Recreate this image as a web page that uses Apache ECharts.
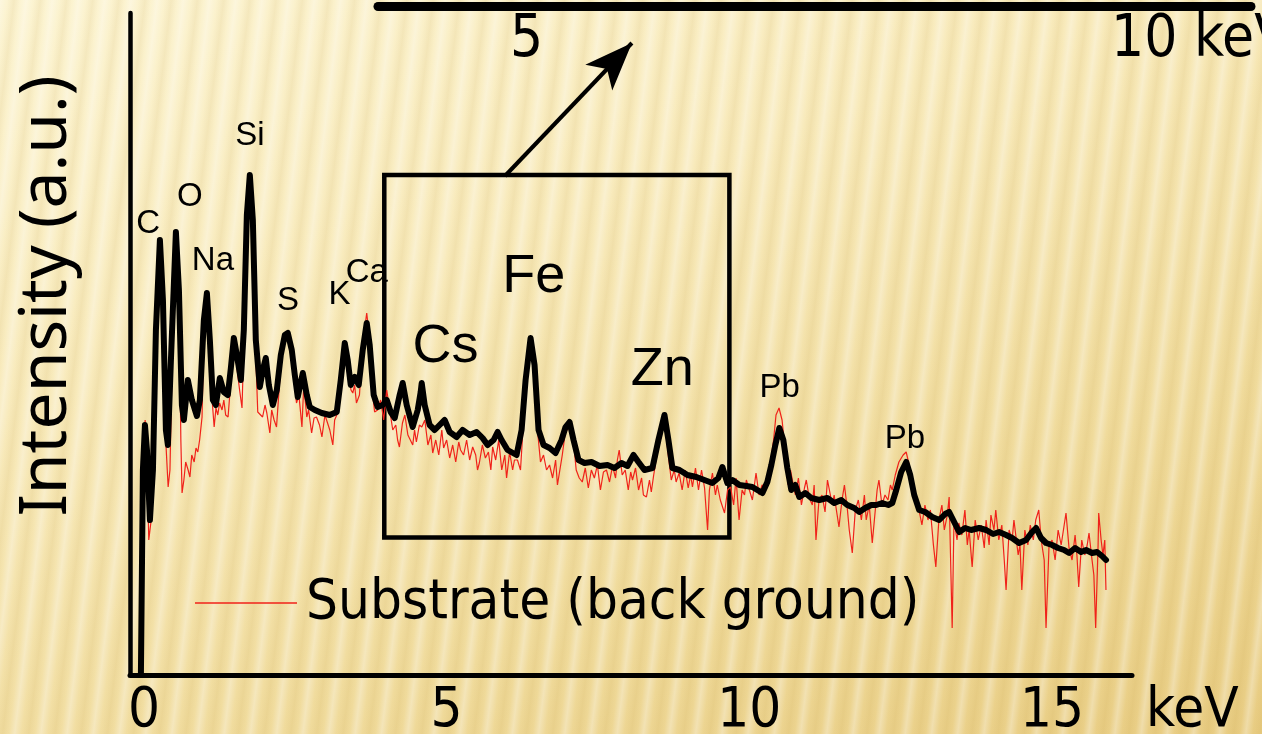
<!DOCTYPE html>
<html><head><meta charset="utf-8">
<script src="https://cdn.jsdelivr.net/npm/echarts@6/dist/echarts.min.js"></script>
<style>
html,body{margin:0;padding:0;width:1262px;height:734px;overflow:hidden;}
body{background:
 repeating-linear-gradient(97deg, rgba(255,255,255,0.30) 0px, rgba(255,255,255,0) 7px, rgba(185,145,50,0.10) 14px, rgba(255,255,255,0) 20px, rgba(255,255,255,0.30) 26px),
 linear-gradient(160deg, #FCF4D2 0%, #F8EABB 35%, #F0DB9C 70%, #E8CC82 100%);}
#chart{width:1262px;height:734px;}
</style></head>
<body><div id="chart"></div>
<script>
// Energy (keV) and intensity (a.u.) of the sample spectrum (black)
const sampleEnergy = [-0.05,-0.017,0.017,0.05,0.099,0.149,0.198,0.264,0.314,0.363,0.396,0.446,0.528,0.578,0.627,0.66,0.726,0.792,0.875,0.924,0.99,1.04,1.089,1.139,1.188,1.254,1.32,1.386,1.436,1.485,1.535,1.601,1.65,1.7,1.749,1.799,1.848,1.914,1.964,2.013,2.063,2.129,2.195,2.261,2.327,2.376,2.442,2.492,2.541,2.624,2.69,2.739,2.822,2.937,3.069,3.185,3.251,3.317,3.366,3.416,3.482,3.548,3.614,3.68,3.729,3.795,3.861,3.944,4.01,4.076,4.142,4.224,4.274,4.34,4.439,4.522,4.571,4.588,4.637,4.719,4.802,4.884,4.967,5.05,5.165,5.264,5.38,5.495,5.594,5.677,5.776,5.842,5.908,6.007,6.155,6.238,6.304,6.386,6.452,6.518,6.601,6.7,6.799,6.898,6.964,7.03,7.096,7.178,7.277,7.393,7.525,7.657,7.772,7.888,7.987,8.086,8.168,8.267,8.399,8.498,8.598,8.663,8.729,8.845,8.977,9.125,9.257,9.389,9.488,9.554,9.637,9.719,9.835,9.95,10.05,10.132,10.215,10.297,10.363,10.429,10.495,10.561,10.627,10.693,10.759,10.825,10.924,11.023,11.155,11.287,11.403,11.518,11.617,11.733,11.815,11.914,12.013,12.096,12.195,12.294,12.36,12.426,12.508,12.591,12.657,12.723,12.805,12.904,13.02,13.135,13.234,13.3,13.383,13.465,13.564,13.663,13.795,13.911,14.026,14.125,14.241,14.34,14.455,14.571,14.67,14.736,14.818,14.901,15.0,15.099,15.198,15.281,15.38,15.479,15.561,15.66,15.743,15.825,15.891];
const sampleIntensity = [0,205,250,225,155,205,345,435,375,245,230,315,443,385,270,255,295,275,259,275,355,382,335,275,270,297,283,280,307,337,320,295,345,460,500,455,335,288,305,317,290,270,285,320,340,342,325,300,278,302,280,268,265,262,260,263,295,332,315,290,298,290,325,352,330,280,268,270,275,263,257,280,292,270,248,265,283,292,270,250,245,250,255,243,238,245,240,243,237,230,235,243,235,225,220,245,295,337,310,245,230,227,222,235,248,253,235,215,212,213,209,210,207,212,209,220,213,205,207,235,260,235,207,205,200,198,195,192,197,208,192,195,190,189,188,185,182,193,210,230,247,235,207,185,190,178,182,177,175,177,172,175,170,167,163,167,170,170,172,170,172,185,203,213,200,180,165,163,158,155,161,163,153,143,147,145,147,145,141,143,140,137,132,135,143,147,137,132,130,127,125,122,127,123,125,122,123,119,115];

// Energy (keV) and intensity (a.u.) of the substrate background spectrum (red)
const substrateEnergy = [-0.05,-0.02,0.02,0.05,0.08,0.12,0.15,0.20,0.26,0.31,0.36,0.40,0.43,0.46,0.53,0.58,0.61,0.63,0.66,0.69,0.73,0.76,0.79,0.83,0.86,0.89,0.92,0.96,0.99,1.04,1.09,1.12,1.16,1.19,1.22,1.25,1.29,1.32,1.35,1.39,1.42,1.45,1.49,1.52,1.55,1.58,1.62,1.65,1.70,1.75,1.80,1.85,1.88,1.91,1.96,2.00,2.03,2.08,2.11,2.15,2.19,2.24,2.29,2.34,2.39,2.44,2.49,2.52,2.56,2.61,2.64,2.69,2.72,2.77,2.81,2.85,2.90,2.94,2.99,3.02,3.07,3.12,3.15,3.20,3.27,3.32,3.37,3.42,3.45,3.48,3.51,3.56,3.61,3.68,3.73,3.78,3.81,3.86,3.91,3.96,4.01,4.06,4.11,4.16,4.19,4.22,4.27,4.31,4.36,4.39,4.44,4.47,4.50,4.55,4.59,4.64,4.69,4.74,4.77,4.82,4.87,4.92,4.95,5.00,5.05,5.10,5.15,5.20,5.23,5.28,5.33,5.38,5.43,5.48,5.51,5.54,5.59,5.64,5.69,5.73,5.76,5.81,5.86,5.91,5.96,5.99,6.04,6.09,6.12,6.17,6.22,6.25,6.30,6.39,6.45,6.50,6.55,6.60,6.65,6.70,6.75,6.80,6.83,6.86,6.91,6.96,7.03,7.10,7.14,7.19,7.24,7.29,7.34,7.39,7.44,7.49,7.54,7.59,7.64,7.69,7.74,7.79,7.82,7.85,7.90,7.95,8.00,8.04,8.07,8.12,8.17,8.22,8.25,8.30,8.35,8.38,8.42,8.46,8.51,8.60,8.66,8.71,8.76,8.79,8.84,8.89,8.94,8.99,9.03,9.06,9.11,9.16,9.21,9.26,9.31,9.34,9.39,9.44,9.47,9.52,9.59,9.64,9.69,9.74,9.78,9.83,9.88,9.92,9.95,10.00,10.05,10.11,10.16,10.21,10.28,10.33,10.40,10.44,10.49,10.54,10.59,10.64,10.68,10.71,10.76,10.81,10.86,10.91,10.94,10.99,11.04,11.07,11.10,11.15,11.20,11.25,11.29,11.32,11.37,11.40,11.45,11.48,11.53,11.57,11.62,11.65,11.70,11.75,11.80,11.85,11.90,11.93,11.98,12.03,12.08,12.11,12.14,12.19,12.24,12.29,12.33,12.36,12.41,12.47,12.54,12.59,12.64,12.69,12.74,12.77,12.80,12.85,12.90,12.95,12.99,13.04,13.08,13.13,13.18,13.22,13.27,13.30,13.35,13.38,13.43,13.46,13.51,13.56,13.60,13.63,13.68,13.73,13.78,13.83,13.88,13.91,13.96,13.99,14.04,14.07,14.12,14.17,14.21,14.24,14.29,14.34,14.37,14.40,14.44,14.47,14.50,14.55,14.60,14.64,14.69,14.73,14.78,14.82,14.87,14.90,14.95,15.00,15.05,15.10,15.15,15.20,15.23,15.28,15.33,15.38,15.41,15.44,15.49,15.54,15.58,15.61,15.66,15.69,15.72,15.76,15.77,15.81,15.84,15.87,15.89];
const substrateIntensity = [0,205,255,220,135,155,205,345,430,375,235,188,205,295,440,375,235,182,195,213,205,198,220,213,227,223,235,258,345,380,330,280,248,267,260,272,265,275,260,258,282,303,335,315,300,285,267,330,450,497,450,315,263,262,258,270,262,242,265,255,248,292,325,337,335,315,290,272,280,248,290,258,265,242,257,258,250,238,260,258,245,230,255,262,300,327,310,285,282,290,272,280,330,362,335,280,263,265,275,255,285,265,245,250,235,228,252,260,240,242,230,245,233,250,248,255,230,240,222,235,220,245,227,235,217,230,213,233,225,220,235,215,228,220,205,212,230,217,223,205,228,215,235,205,220,197,223,205,215,215,205,235,290,335,305,245,213,220,205,210,197,215,190,192,220,243,248,230,205,197,193,207,187,205,197,210,185,203,205,193,209,197,215,225,200,205,185,203,195,207,185,197,180,178,195,183,200,215,230,255,220,195,205,193,202,185,205,187,200,188,207,185,205,187,145,185,202,180,190,175,162,185,188,170,197,155,185,180,195,185,175,202,180,190,185,205,235,260,267,255,225,190,205,195,180,197,170,187,195,177,170,190,135,175,180,163,195,195,170,180,160,148,175,190,165,145,122,165,175,155,180,155,170,132,165,185,195,170,180,175,190,185,200,213,220,223,210,195,180,175,175,150,170,155,165,130,108,155,170,145,160,178,47,155,135,152,140,165,130,145,108,155,135,150,127,155,130,160,145,165,135,150,115,85,145,135,155,155,120,130,85,145,130,150,135,155,165,135,115,47,130,135,115,145,130,150,162,127,115,140,120,88,135,120,130,142,115,100,47,130,162,135,120,135,85];

// Peak annotations: element, energy (keV), label height (a.u.)
const peakNames  = ['C','O','Na','Si','S','K','Ca','Cs','Fe','Zn','Pb','Pb'];
const peakEnergy = [0.07,0.76,1.14,1.75,2.38,3.23,3.68,4.98,6.44,8.56,10.50,12.57];
const peakHeight = [451,478,414,539,374,380,402,328,398,305,287,236];
const bigPeaks = ['Cs','Fe','Zn'];

// Axis tick labels
const mainTicks  = [0,5,10,15];
const insetTicks = [5,10];

// Zoom box (keV / a.u.) and arrow
const zoomBox   = [[3.97,137.5],[9.67,500]];
const zoomArrow = [[5.963,499],[8.06,632]];

const seriesName = 'Substrate (back ground)';
const COND = "'DejaVu Sans Condensed','DejaVu Sans',sans-serif";
const NARROW = "'Liberation Sans Narrow','DejaVu Sans Condensed',sans-serif";
const ARIAL = "'Liberation Sans',Arial,sans-serif";
const RED = '#F0221A';

const zip = (a,b) => a.map((v,i)=>[v,b[i]]);

const chart = echarts.init(document.getElementById('chart'), null, {renderer:'canvas'});
chart.setOption({
  animation:false,
  backgroundColor:'transparent',
  grid:[{left:130,right:130,top:13,bottom:59,outerBoundsMode:'none'},
        {left:378,right:11,top:0,height:6,outerBoundsMode:'none'}],
  xAxis:[{
    type:'value', gridIndex:0, min:-0.23, max:16.32,
    axisLine:{onZero:false, lineStyle:{color:'#000',width:5}},
    axisTick:{show:false}, splitLine:{show:false},
    axisLabel:{customValues:mainTicks, color:'#000', fontSize:56, fontFamily:COND, margin:8},
    name:'keV', nameLocation:'end', nameGap:14,
    nameTextStyle:{color:'#000', fontSize:56, fontFamily:COND, align:'left', verticalAlign:'top', padding:[8,0,0,0]}
  },{
    type:'value', gridIndex:1, min:3.902, max:11.165, position:'bottom',
    axisLine:{onZero:false, lineStyle:{color:'#000',width:9}},
    axisTick:{show:false}, splitLine:{show:false},
    axisLabel:{customValues:insetTicks, align:'left', color:'#000', fontSize:58, fontFamily:NARROW, margin:6,
      formatter:v => v===10 ? '10 keV' : String(v)}
  }],
  yAxis:[{
    type:'value', gridIndex:0, min:0, max:662,
    axisLine:{show:true, onZero:false, lineStyle:{color:'#000',width:4.5}},
    axisTick:{show:false}, axisLabel:{show:false}, splitLine:{show:false}
  },{type:'value', gridIndex:1, show:false}],
  legend:{
    data:[{name:seriesName, icon:'rect'}], left:190, top:570, itemWidth:102, itemHeight:1.5, selectedMode:false,
    itemStyle:{color:RED},
    textStyle:{color:'#000', fontSize:56, fontFamily:COND, padding:[0,0,0,4]}
  },
  graphic:[{
    type:'text', x:80, y:296, rotation:Math.PI/2,
    style:{text:'Intensity (a.u.)', fill:'#000', font:"66px 'Noto Sans', sans-serif", align:'center', verticalAlign:'bottom'}
  }],
  series:[{
    name:seriesName, type:'line', data:zip(substrateEnergy, substrateIntensity),
    symbol:'none', itemStyle:{color:RED}, lineStyle:{color:RED, width:1.2}, z:2, silent:true
  },{
    name:'Sample', type:'line', data:zip(sampleEnergy, sampleIntensity),
    symbol:'none', itemStyle:{color:'#000'}, lineStyle:{color:'#000', width:6, join:'round', cap:'round'}, z:3, silent:true,
    markArea:{silent:true, label:{show:false},
      itemStyle:{color:'rgba(0,0,0,0)', borderColor:'#000', borderWidth:4.5},
      data:[[{coord:zoomBox[0]},{coord:zoomBox[1]}]]},
    markLine:{silent:true, label:{show:false}, lineStyle:{color:'#000', width:4, type:'solid'},
      data:[[{coord:zoomArrow[0], symbol:'none'},{coord:zoomArrow[1], symbol:'arrow', symbolSize:[28,48]}]]}
  },{
    name:'Peaks', type:'scatter', symbolSize:0, silent:true, z:5,
    itemStyle:{color:'#000', opacity:1},
    data: peakNames.map((n,i)=>({name:n, value:[peakEnergy[i], peakHeight[i]],
      label:{fontSize: bigPeaks.includes(n) ? 54 : 33}})),
    label:{show:true, position:[0,0], align:'center', verticalAlign:'middle', formatter:'{b}',
      color:'#000', opacity:1, textBorderWidth:0, fontFamily:ARIAL},
    emphasis:{disabled:true}
  }]
});
</script></body></html>
